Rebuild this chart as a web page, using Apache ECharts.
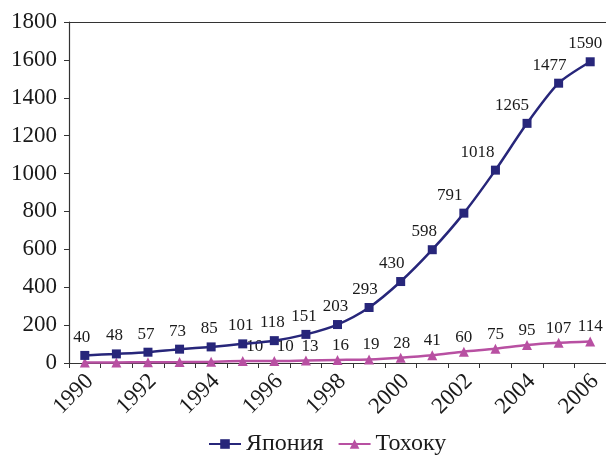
<!DOCTYPE html>
<html>
<head>
<meta charset="utf-8">
<script src="https://cdn.jsdelivr.net/npm/echarts@6/dist/echarts.min.js"></script>
<style>
  html, body { margin: 0; padding: 0; background: #fff; }
  #chart { width: 606px; height: 455px; }
</style>
</head>
<body>
<div id="chart"></div>
<script>
// Years on the horizontal axis
const years = ['1990','1991','1992','1993','1994','1995','1996','1997','1998',
               '1999','2000','2001','2002','2003','2004','2005','2006'];

// Series values
const japan  = [40, 48, 57, 73, 85, 101, 118, 151, 203, 293, 430, 598, 791, 1018, 1265, 1477, 1590];
const tohoku = [2, 3, 4, 5, 7, 10, 10, 13, 16, 19, 28, 41, 60, 75, 95, 107, 114];

// Which Tohoku points carry a value label
const tohokuLabelled = [false, false, false, false, false, true, true, true, true,
                        true, true, true, true, true, true, true, true];

// Horizontal nudges of the value labels (px), keeps them clear of the lines
const japanLabelShift  = [-3, -2, -2, -2, -2, -2, -2, -2, -2, -4, -9, -8, -14, -18, -15, -9, -5];
const tohokuLabelShift = [0, 0, 0, 0, 0, 12, 11, 4, 3, 2, 1, 0, 0, 0, 0, 0, 0];

// Y axis scale
const yMin = 0, yMax = 1800, yStep = 200;

const FONT = 'Liberation Serif';
const TEXT = '#1a1a1a';
const AXIS = '#333333';
const NAVY = '#27267a';
const PINK = '#b850a2';

const chart = echarts.init(document.getElementById('chart'), null, { renderer: 'canvas' });

const japanData = japan.map((v, i) => ({
  value: v,
  label: { offset: [japanLabelShift[i], 0] }
}));
const tohokuData = tohoku.map((v, i) => ({
  value: v,
  label: { show: tohokuLabelled[i], offset: [tohokuLabelShift[i], 0] }
}));

chart.setOption({
  animation: false,
  backgroundColor: '#ffffff',
  textStyle: { fontFamily: FONT, color: TEXT },
  grid: {
    left: 69, right: 0, top: 22, bottom: 92,
    containLabel: false,
    outerBoundsMode: 'none'
  },
  legend: {
    left: 203,
    top: 427,
    itemWidth: 32,
    itemHeight: 12,
    itemGap: 14,
    textStyle: { fontFamily: FONT, fontSize: 24, color: TEXT },
    data: ['Япония', 'Тохоку']
  },
  xAxis: [
    {
      type: 'category',
      data: years,
      boundaryGap: true,
      axisLine: { show: true, lineStyle: { color: AXIS, width: 1.2 } },
      axisTick: { show: true, interval: 0, length: 5, inside: false, lineStyle: { color: AXIS } },
      axisLabel: {
        interval: 1,
        rotate: 45,
        margin: 10,
        verticalAlign: 'top',
        lineHeight: 14,
        fontFamily: FONT,
        fontSize: 23,
        color: TEXT
      }
    },
    {
      // plain frame line along the top of the plot
      type: 'category',
      data: years,
      position: 'top',
      axisLine: { show: true, lineStyle: { color: AXIS, width: 1.2 } },
      axisTick: { show: false },
      axisLabel: { show: false }
    }
  ],
  yAxis: {
    type: 'value',
    min: yMin,
    max: yMax,
    interval: yStep,
    splitLine: { show: false },
    axisLine: { show: true, lineStyle: { color: AXIS, width: 1.2 } },
    axisTick: { show: true, length: 5, inside: false, lineStyle: { color: AXIS } },
    axisLabel: {
      margin: 12,
      fontFamily: FONT,
      fontSize: 23,
      color: TEXT,
      formatter: v => String(v)
    }
  },
  series: [
    {
      name: 'Япония',
      type: 'line',
      data: japanData,
      smooth: 0.25,
      symbol: 'rect',
      symbolSize: 9,
      lineStyle: { color: NAVY, width: 2.5 },
      itemStyle: { color: NAVY },
      label: {
        show: true,
        position: 'top',
        distance: 5,
        fontFamily: FONT,
        fontSize: 17,
        color: TEXT
      },
      z: 3
    },
    {
      name: 'Тохоку',
      type: 'line',
      data: tohokuData,
      smooth: 0.25,
      symbol: 'triangle',
      symbolSize: 10,
      lineStyle: { color: PINK, width: 2.5 },
      itemStyle: { color: PINK },
      label: {
        position: 'top',
        distance: 1,
        fontFamily: FONT,
        fontSize: 17,
        color: TEXT
      },
      z: 2
    }
  ]
});
</script>
</body>
</html>
